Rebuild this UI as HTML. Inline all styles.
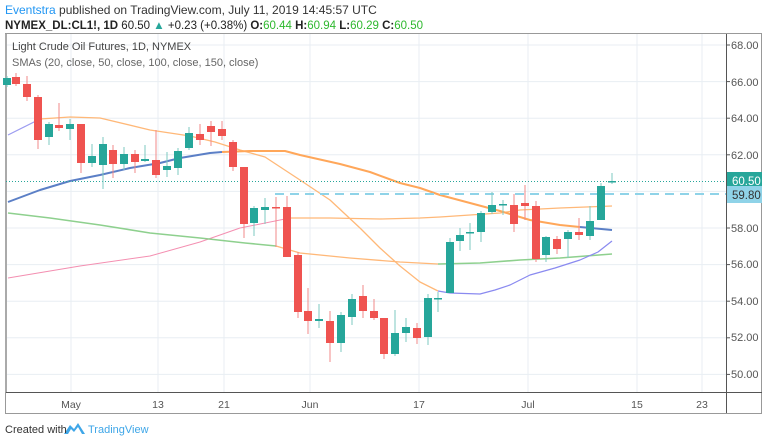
<!DOCTYPE html>
<html><head><meta charset="utf-8"><style>
body{margin:0;background:#fff;width:768px;height:442px;overflow:hidden;font-family:"Liberation Sans",sans-serif;}
svg{position:absolute;left:0;top:0}
</style></head><body>
<svg width="768" height="442" viewBox="0 0 768 442" font-family="Liberation Sans, sans-serif">
<text x="5" y="14" font-size="12" fill="#333"><tspan fill="#2196f3">Eventstra</tspan> published on TradingView.com, July 11, 2019 14:45:57 UTC</text>
<text x="5" y="29" font-size="11.5" fill="#222" font-weight="bold">NYMEX_DL:CL1!, 1D <tspan font-weight="normal">60.50</tspan> <tspan fill="#26a69a">▲</tspan> <tspan font-weight="normal">+0.23 (+0.38%)</tspan> O:<tspan fill="#2eb82e" font-weight="normal">60.44</tspan> H:<tspan fill="#2eb82e" font-weight="normal">60.94</tspan> L:<tspan fill="#2eb82e" font-weight="normal">60.29</tspan> C:<tspan fill="#2eb82e" font-weight="normal">60.50</tspan></text>
<rect x="5.5" y="33.5" width="756" height="380" fill="#fff" stroke="#999"/>
<g stroke="#e8eef3" stroke-width="1">
<line x1="6" x2="726" y1="45" y2="45"/><line x1="6" x2="726" y1="81.6" y2="81.6"/><line x1="6" x2="726" y1="118.2" y2="118.2"/><line x1="6" x2="726" y1="154.8" y2="154.8"/><line x1="6" x2="726" y1="191.4" y2="191.4"/><line x1="6" x2="726" y1="228" y2="228"/><line x1="6" x2="726" y1="264.6" y2="264.6"/><line x1="6" x2="726" y1="301.2" y2="301.2"/><line x1="6" x2="726" y1="337.8" y2="337.8"/><line x1="6" x2="726" y1="374.4" y2="374.4"/>
<line x1="71" x2="71" y1="34" y2="392"/><line x1="158" x2="158" y1="34" y2="392"/><line x1="224" x2="224" y1="34" y2="392"/><line x1="310" x2="310" y1="34" y2="392"/><line x1="419" x2="419" y1="34" y2="392"/><line x1="528" x2="528" y1="34" y2="392"/><line x1="637" x2="637" y1="34" y2="392"/><line x1="702" x2="702" y1="34" y2="392"/>
</g>
<line x1="6" x2="6" y1="34" y2="392" stroke="#aaa" stroke-width="2"/>
<line x1="726.5" x2="726.5" y1="34" y2="413" stroke="#555"/>
<line x1="6" x2="762" y1="392.5" y2="392.5" stroke="#555"/>
<g font-size="11" fill="#555">
<text x="731" y="49">68.00</text><text x="731" y="86">66.00</text><text x="731" y="122">64.00</text><text x="731" y="159">62.00</text><text x="731" y="232">58.00</text><text x="731" y="268">56.00</text><text x="731" y="305">54.00</text><text x="731" y="341">52.00</text><text x="731" y="378">50.00</text>
</g>
<g stroke="#555"><line x1="726" x2="730" y1="45" y2="45"/><line x1="726" x2="730" y1="81.6" y2="81.6"/><line x1="726" x2="730" y1="118.2" y2="118.2"/><line x1="726" x2="730" y1="154.8" y2="154.8"/><line x1="726" x2="730" y1="228" y2="228"/><line x1="726" x2="730" y1="264.6" y2="264.6"/><line x1="726" x2="730" y1="301.2" y2="301.2"/><line x1="726" x2="730" y1="337.8" y2="337.8"/><line x1="726" x2="730" y1="374.4" y2="374.4"/></g>
<g font-size="10.5" fill="#555" text-anchor="middle">
<text x="71" y="408">May</text><text x="158" y="408">13</text><text x="224" y="408">21</text><text x="310" y="408">Jun</text><text x="419" y="408">17</text><text x="528" y="408">Jul</text><text x="637" y="408">15</text><text x="702" y="408">23</text>
</g>
<text x="12" y="50" font-size="11" fill="#444">Light Crude Oil Futures, 1D, NYMEX</text>
<text x="12" y="66" font-size="11" fill="#666">SMAs (20, close, 50, close, 100, close, 150, close)</text>
<g fill="none" stroke-linejoin="round">
<polyline stroke="#f48fb1" stroke-width="1" points="8,278 80,266 150,256 200,242 240,228 290,218"/>
<polyline stroke="#ffb878" stroke-width="1.3" points="290,218 330,218 380,219 420,218 440,217 470,215 500,213 520,210 560,208 612,206"/>
<polyline stroke="#8ed08e" stroke-width="1.6" points="8,213 50,218 100,225 150,233 200,238 245,243 276,246"/>
<polyline stroke="#ffb878" stroke-width="1.3" points="276,246 300,253 350,258 400,262 438,264"/>
<polyline stroke="#8ed08e" stroke-width="1.6" points="438,264 480,263 520,260 560,258 612,254"/>
<polyline stroke="#9c9cf0" stroke-width="1.2" points="8,135 40,119"/>
<polyline stroke="#ffb878" stroke-width="1.3" points="40,119 70,117 100,118 150,130 190,136 215,142 240,150 265,157 300,180 330,200 360,228 380,248 400,266 420,282 438,291"/>
<polyline stroke="#8a8af0" stroke-width="1.2" points="438,291 450,293 480,294 495,290 510,285 530,275 555,268 580,260 598,252 612,241"/>
<polyline stroke="#5b7fc6" stroke-width="2" points="8,202 40,190 70,181 100,175 130,168 160,163 180,158 210,153 222,152"/>
<polyline stroke="#ffa75a" stroke-width="2" points="222,152 250,151 285,151 300,155 340,164 370,172 400,183 420,188 440,195 470,203 500,211 530,220 560,225 580,227"/>
<polyline stroke="#5b7fc6" stroke-width="2" points="580,227 612,230"/>
</g>
<line x1="6" x2="726" y1="181.5" y2="181.5" stroke="#26a69a" stroke-dasharray="1,2"/>
<line x1="275" x2="726" y1="194" y2="194" stroke="#8fd3e8" stroke-width="2" stroke-dasharray="9,6"/>
<g id="c"></g>
<rect x="727" y="172" width="35" height="18" fill="#26a69a"/>
<text x="732" y="185" font-size="11.5" fill="#fff">60.50</text>
<rect x="727" y="186" width="35" height="17" fill="#8fd3e8"/>
<text x="732" y="199" font-size="11.5" fill="#333">59.80</text>
<g transform="translate(64,421)"><path d="M0,13 L6,4 L10,8 L14,2 L21,13 Z" fill="#3ea6e8"/><path d="M4,13 L7,8 L10,11 L14,6 L18,13" fill="#fff"/></g>
<text x="5" y="433" font-size="11" fill="#333">Created with</text>
<text x="88" y="433" font-size="11" fill="#3ea6e8">TradingView</text>
</svg>
<script>
var d=[[7,'g',76,78,85,87],[16,'r',73,77,84,86],[27,'r',76,84,97,101],[38,'r',95,97,140,149],[49,'g',122,124,137,145],[59,'r',103,125,128,131],[70,'g',119,124,129,140],[81,'r',124,124,163,173],[92,'g',144,156,163,167],[103,'g',137,144,165,189],[113,'r',145,150,164,178],[124,'g',147,154,164,170],[135,'r',150,154,162,173],[145,'g',145,159,161,162],[156,'r',130,160,175,178],[167,'g',152,166,170,177],[178,'g',148,151,168,175],[189,'g',127,133,148,150],[200,'r',124,134,140,145],[211,'r',121,126,132,146],[222,'r',121,129,136,140],[233,'r',140,142,167,171],[244,'r',167,167,224,238],[254,'g',206,208,223,236],[265,'g',198,207,210,224],[276,'r',197,207,208,247],[287,'r',196,207,257,257],[298,'r',252,255,312,318],[308,'r',288,311,321,334],[319,'g',304,319,321,328],[330,'r',311,321,343,362],[341,'g',312,315,343,352],[352,'g',294,299,317,325],[363,'r',285,296,311,318],[374,'r',299,311,318,320],[384,'r',318,318,354,359],[395,'g',310,333,354,356],[406,'g',318,327,333,342],[417,'r',323,328,338,344],[428,'g',294,298,337,345],[438,'g',292,298,299,312],[450,'g',238,242,293,293],[460,'g',228,235,241,251],[470,'g',223,232,233,250],[481,'g',211,213,232,242],[492,'g',192,205,212,214],[503,'g',200,204,205,215],[514,'r',194,205,224,232],[525,'r',185,203,206,220],[536,'r',201,206,259,262],[546,'g',236,237,255,262],[557,'r',236,239,249,254],[568,'g',230,232,239,258],[579,'r',218,232,235,240],[590,'g',206,221,236,240],[601,'g',183,186,220,220],[612,'g',173,181,182,184]];
var s='';
d.forEach(function(c){var col=c[1]=='g'?'#26a69a':'#ef5350';var wc=c[1]=='g'?'#7cc9c0':'#f08a88';
s+='<line x1="'+c[0]+'" x2="'+c[0]+'" y1="'+c[2]+'" y2="'+c[5]+'" stroke="'+wc+'" stroke-width="1"/>';
var h=Math.max(c[4]-c[3],1.5);s+='<rect x="'+(c[0]-4)+'" y="'+c[3]+'" width="8" height="'+h+'" fill="'+col+'"/>';});
document.getElementById('c').innerHTML=s;
</script>
</body></html>
